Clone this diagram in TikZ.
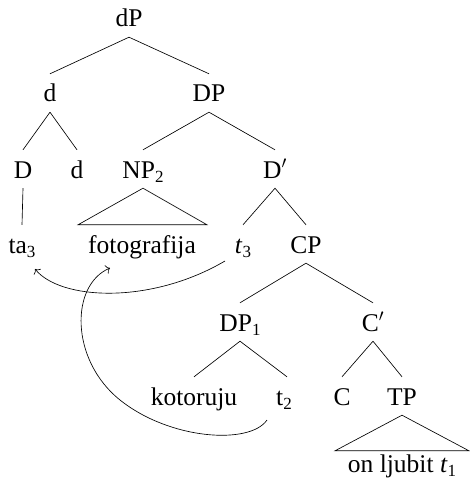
\documentclass[tikz,border=0pt]{standalone}
\usepackage{fontspec}
\setmainfont{Liberation Serif}
\usetikzlibrary{arrows.meta}
\newcommand\lsub[1]{\raisebox{-0.4ex}{\fontsize{17}{17}\selectfont #1}}
\begin{document}
\begin{tikzpicture}[x=1pt,y=-1pt,
  lab/.style={anchor=base,font=\fontsize{25.5}{29}\selectfont,text height=20pt,text depth=2pt,inner xsep=1pt,inner ysep=8pt},
  edge/.style={line width=0.65pt},
  mv/.style={line width=0.65pt,-{To[length=4pt,width=9pt]}}]
\useasboundingbox (0,0) rectangle (469,489);
% nodes
\node[lab] (dP) at (129,27) {dP};
\node[lab] (d) at (50,102) {d};
\node[lab] (DP) at (209,102) {DP};
\node[lab] (D) at (23,178) {D};
\node[lab] (d2) at (77,178) {d};
\node[lab] (NP) at (143,178) {NP\lsub{2}};
\node[lab] (Dbar) at (275,178) {D$'$};
\node[lab] (ta) at (22,253) {ta\lsub{3}};
\node[lab] (foto) at (142,253) {fotografija};
\node[lab] (t3) at (243,253) {\textit{t}\lsub{3}};
\node[lab] (CP) at (306,253) {CP};
\node[lab] (DP1) at (240,331) {DP\lsub{1}};
\node[lab] (Cbar) at (373,331) {C$'$};
\node[lab] (kot) at (194,405) {kotoruju};
\node[lab] (t2) at (284,405) {t\lsub{2}};
\node[lab] (C) at (342,405) {C};
\node[lab] (TP) at (402,405) {TP};
\node[lab] (onl) at (402,472) {on ljubit \textit{t}\lsub{1}};
% edges
\draw[edge] (dP.south) -- (d.north);
\draw[edge] (dP.south) -- (DP.north);
\draw[edge] (d.south) -- (D.north);
\draw[edge] (d.south) -- (d2.north);
\draw[edge] (DP.south) -- (NP.north);
\draw[edge] (DP.south) -- (Dbar.north);
\draw[edge] (D.south) -- (ta.north);
\draw[edge] (NP.south) -- ([xshift=-64pt]foto.north) -- ([xshift=65pt]foto.north) -- cycle;
\draw[edge] (Dbar.south) -- (t3.north);
\draw[edge] (Dbar.south) -- (CP.north);
\draw[edge] (CP.south) -- (DP1.north);
\draw[edge] (CP.south) -- (Cbar.north);
\draw[edge] (DP1.south) -- (kot.north);
\draw[edge] (DP1.south) -- ([xshift=3pt]t2.north);
\draw[edge] (Cbar.south) -- (C.north);
\draw[edge] (Cbar.south) -- (TP.north);
\draw[edge] (TP.south) -- ([xshift=-67pt,yshift=-7pt]onl.north) -- ([xshift=67pt,yshift=-7pt]onl.north) -- cycle;
% movement arrows
\coordinate (a1s) at (225,261);
\coordinate (a1e) at (35,269);
\coordinate (a2s) at (267,420);
\coordinate (a2m) at (120,400);
\coordinate (a2e) at (110,268);
\draw[mv] (a1s) .. controls (150,305) and (60,300) .. (a1e);
\draw[mv] (a2s) .. controls (250,445) and (170,440) .. (a2m) .. controls (70,360) and (70,285) .. (a2e);
\end{tikzpicture}
\end{document}
